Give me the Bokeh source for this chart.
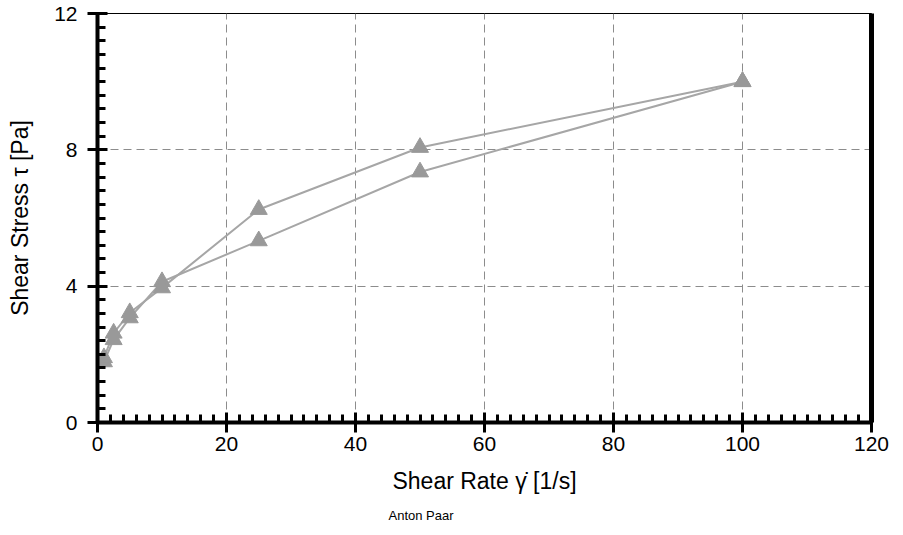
from bokeh.plotting import figure
from bokeh.models import Range1d, LinearAxis, FixedTicker, Title
from bokeh.embed import file_html
from bokeh.resources import INLINE

# Data
shear_rate_up = [1, 2.5, 5, 10, 25, 50, 100]
shear_stress_up = [1.78, 2.43, 3.07, 4.13, 5.33, 7.35, 10.0]
shear_rate_down = [100, 50, 25, 10, 5, 2.5, 1]
shear_stress_down = [10.0, 8.07, 6.25, 3.95, 3.22, 2.62, 1.9]

x_ticks = [0, 20, 40, 60, 80, 100, 120]
y_ticks = [0, 4, 8, 12]

FONT = "Liberation Sans"
LINE_COLOR = "#a6a6a6"
MARK_COLOR = "#999999"

p = figure(width=895, height=531, output_backend="svg", toolbar_location=None,
           x_range=Range1d(0, 120), y_range=Range1d(0, 12),
           min_border_left=97, min_border_right=24, min_border_top=13, min_border_bottom=108)

p.outline_line_color = "black"
p.outline_line_width = 1

for ax, ticks in ((p.xaxis[0], x_ticks), (p.yaxis[0], y_ticks)):
    step = ticks[1] - ticks[0]
    ax.ticker = FixedTicker(ticks=ticks,
                            minor_ticks=[i * step / 10 for i in range(0, 10 * (len(ticks) - 1) + 1)])
    ax.axis_line_width = 4
    ax.axis_line_color = "black"
    ax.major_tick_line_width = 3
    ax.major_tick_line_color = "black"
    ax.major_tick_in = 10
    ax.major_tick_out = 10
    ax.minor_tick_line_width = 3
    ax.minor_tick_line_color = "black"
    ax.minor_tick_in = 8
    ax.minor_tick_out = 0
    ax.major_label_text_font = FONT
    ax.major_label_text_font_size = "21px"
    ax.major_label_text_color = "black"
    ax.axis_label_text_font = FONT
    ax.axis_label_text_font_size = "23px"
    ax.axis_label_text_font_style = "normal"
    ax.axis_label_text_color = "black"

p.xaxis[0].axis_label = "Shear Rate \u03b3\u0307 [1/s]"
p.xaxis[0].major_label_standoff = 4
p.xaxis[0].axis_label_standoff = 14
p.yaxis[0].axis_label = "Shear Stress \u03c4 [Pa]"
p.yaxis[0].major_label_standoff = 10
p.yaxis[0].axis_label_standoff = 18

right_axis = LinearAxis(axis_line_width=5, axis_line_color="black",
                        ticker=FixedTicker(ticks=[]),
                        major_tick_line_color=None, minor_tick_line_color=None)
p.add_layout(right_axis, "right")

p.xgrid.ticker = FixedTicker(ticks=x_ticks)
p.ygrid.ticker = FixedTicker(ticks=y_ticks)
for g in (p.xgrid[0], p.ygrid[0]):
    g.grid_line_color = "#8c8c8c"
    g.grid_line_width = 1
    g.grid_line_dash = "8 5"

p.line(shear_rate_up, shear_stress_up, line_color=LINE_COLOR, line_width=2)
p.line(shear_rate_down, shear_stress_down, line_color=LINE_COLOR, line_width=2)
p.scatter(shear_rate_up, shear_stress_up, marker="triangle", size=17,
          fill_color=MARK_COLOR, line_color=MARK_COLOR)
p.scatter(shear_rate_down, shear_stress_down, marker="triangle", size=17,
          fill_color=MARK_COLOR, line_color=MARK_COLOR)

p.add_layout(Title(text="Anton Paar", align="left", offset=291, text_font=FONT,
                   text_font_size="13px", text_font_style="normal",
                   text_color="black", standoff=18), "below")

open("out.html", "w").write(file_html(p, INLINE))
